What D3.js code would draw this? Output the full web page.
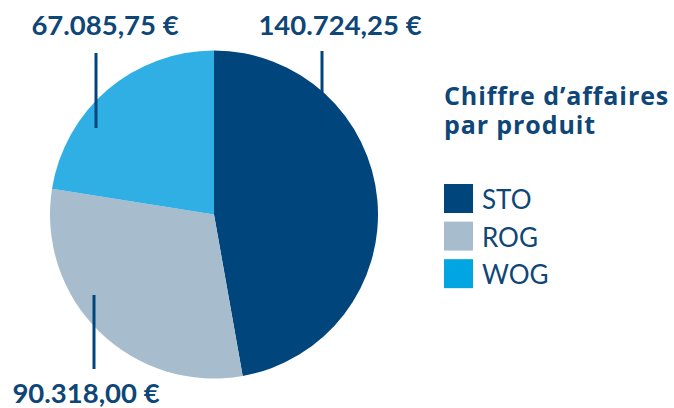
<!DOCTYPE html>
<html><head><meta charset="utf-8">
<script src="https://cdn.jsdelivr.net/npm/d3@7"></script>
<style>body{margin:0;background:#fff}svg{display:block}</style>
</head><body>
<svg id="c" width="674" height="408"></svg>
<script>
const categories = ["STO", "ROG", "WOG"];
const values = [140724.25, 90318.00, 67085.75];
const labels = ["140.724,25 €", "90.318,00 €", "67.085,75 €"];
const pieColors = ["#00457c", "#a7bdcd", "#2fafe4"];
const legendColors = ["#00457c", "#a7bdcd", "#00a5e1"];
const title = ["Chiffre d’affaires", "par produit"];

const svg = d3.select("#c");
const cx = 214, cy = 214.5, r = 164;
const textColor = "#0e4677";
const font = "Lato, 'Open Sans', sans-serif";
const titleFont = "'Open Sans', sans-serif";

const data = categories.map((c, i) => ({cat: c, value: values[i], label: labels[i], i}));
const pie = d3.pie().value(d => d.value).sort(null);
const arc = d3.arc().innerRadius(0).outerRadius(r);
const arcs = pie(data);

const g = svg.append("g").attr("transform", `translate(${cx},${cy})`);
g.selectAll("path").data(arcs).join("path")
  .attr("d", arc).attr("fill", d => pieColors[d.data.i]);

const labelLayout = {
  STO: {lx: 322, y1: 51, y2: 128, tx: 340, ty: 35},
  ROG: {lx: 94, y1: 295, y2: 369, tx: 86, ty: 403},
  WOG: {lx: 96, y1: 53, y2: 128, tx: 105, ty: 35}
};
data.forEach(d => {
  const L = labelLayout[d.cat];
  svg.append("line").attr("x1", L.lx).attr("x2", L.lx).attr("y1", L.y1).attr("y2", L.y2)
    .attr("stroke", "#00457c").attr("stroke-width", 3);
  svg.append("text").attr("x", L.tx).attr("y", L.ty).attr("text-anchor", "middle")
    .attr("font-family", font).attr("font-weight", "bold").attr("font-size", 27.5)
    .attr("fill", textColor).text(d.label);
});

title.forEach((t, i) => {
  svg.append("text").attr("x", 444).attr("y", 105 + i * 29).attr("font-family", titleFont)
    .attr("font-weight", "bold").attr("font-size", 25).attr("letter-spacing", 0.9)
    .attr("fill", textColor).text(t);
});

const leg = svg.append("g");
const legY = d3.scaleBand().domain(categories).range([184, 290]).paddingInner(0.18).paddingOuter(0);
categories.forEach((c, i) => {
  leg.append("rect").attr("x", 444).attr("y", legY(c)).attr("width", 29).attr("height", 29)
    .attr("fill", legendColors[i]);
  leg.append("text").attr("x", 482).attr("y", legY(c) + 25).attr("font-family", font)
    .attr("font-size", 26).attr("fill", textColor).text(c);
});
</script>
</body></html>
